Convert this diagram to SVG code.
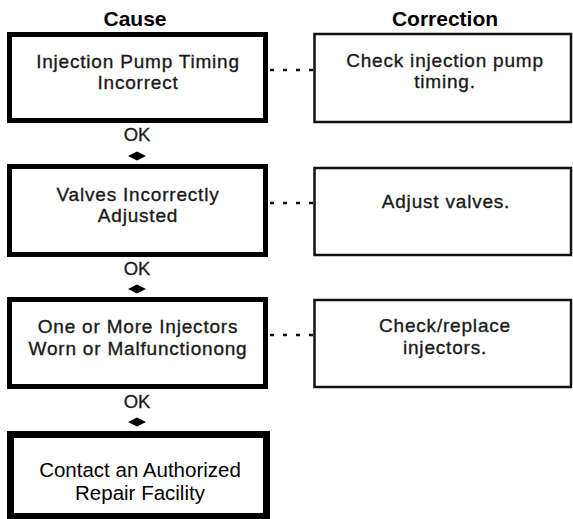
<svg xmlns="http://www.w3.org/2000/svg" width="573" height="519" viewBox="0 0 573 519">
<style>
.hdr{font-family:"Liberation Sans",Arial,sans-serif;font-weight:bold;font-size:21px;fill:#000;text-anchor:middle}
.t{font-family:"Liberation Sans",Arial,sans-serif;font-size:19px;fill:#1a1a1a;stroke:#1a1a1a;stroke-width:0.35;text-anchor:middle;letter-spacing:0.8px}
.t2{font-family:"Liberation Sans",Arial,sans-serif;font-size:20.5px;fill:#000;text-anchor:middle}
.ok{font-family:"Liberation Sans",Arial,sans-serif;font-size:18.5px;fill:#1a1a1a;stroke:#1a1a1a;stroke-width:0.3;text-anchor:middle}
.cause{fill:#fff;stroke:#000;stroke-width:5}
.corr{fill:#fff;stroke:#111;stroke-width:2.5}
.dot{stroke:#111;stroke-width:2.5;stroke-dasharray:4 9;fill:none}
.arr{fill:#000}
</style>
<rect width="573" height="519" fill="#fff"/>
<text class="hdr" x="135" y="26">Cause</text>
<text class="hdr" x="445" y="26">Correction</text>

<g id="connectors">
<line class="dot" x1="270" y1="70" x2="313" y2="70"/>
<line class="dot" x1="270" y1="203" x2="313" y2="203"/>
<line class="dot" x1="270" y1="335" x2="313" y2="335"/>
<text class="ok" x="137" y="141">OK</text>
<polygon class="arr" points="128,156 137,151.5 146,156 137,160.5"/>
<text class="ok" x="137" y="275">OK</text>
<polygon class="arr" points="128,289 137,284.5 146,289 137,293.5"/>
<text class="ok" x="137" y="408">OK</text>
<polygon class="arr" points="128,422 137,417.5 146,422 137,426.5"/>
</g>

<g id="cause1">
<rect class="cause" x="9.5" y="34.5" width="256" height="86"/>
<text class="t" x="138" y="68">Injection Pump Timing</text>
<text class="t" x="138" y="89">Incorrect</text>
</g>
<g id="corr1">
<rect class="corr" x="314.5" y="34" width="256.5" height="88"/>
<text class="t" x="445" y="67">Check injection pump</text>
<text class="t" x="445" y="88">timing.</text>
</g>

<g id="cause2">
<rect class="cause" x="9.5" y="166.5" width="256" height="88"/>
<text class="t" x="138" y="201">Valves Incorrectly</text>
<text class="t" x="138" y="222">Adjusted</text>
</g>
<g id="corr2">
<rect class="corr" x="314.5" y="168" width="256.5" height="87"/>
<text class="t" x="446" y="208">Adjust valves.</text>
</g>

<g id="cause3">
<rect class="cause" x="9.5" y="299.5" width="256" height="87"/>
<text class="t" x="138" y="333">One or More Injectors</text>
<text class="t" x="138" y="355">Worn or Malfunctionong</text>
</g>
<g id="corr3">
<rect class="corr" x="314.5" y="300" width="256.5" height="87"/>
<text class="t" x="445" y="332">Check/replace</text>
<text class="t" x="445" y="354">injectors.</text>
</g>

<g id="repair">
<rect class="cause" style="stroke-width:7" x="10.5" y="434.5" width="256" height="82"/>
<text class="t2" x="140" y="477">Contact an Authorized</text>
<text class="t2" x="140" y="500">Repair Facility</text>
</g>
</svg>
